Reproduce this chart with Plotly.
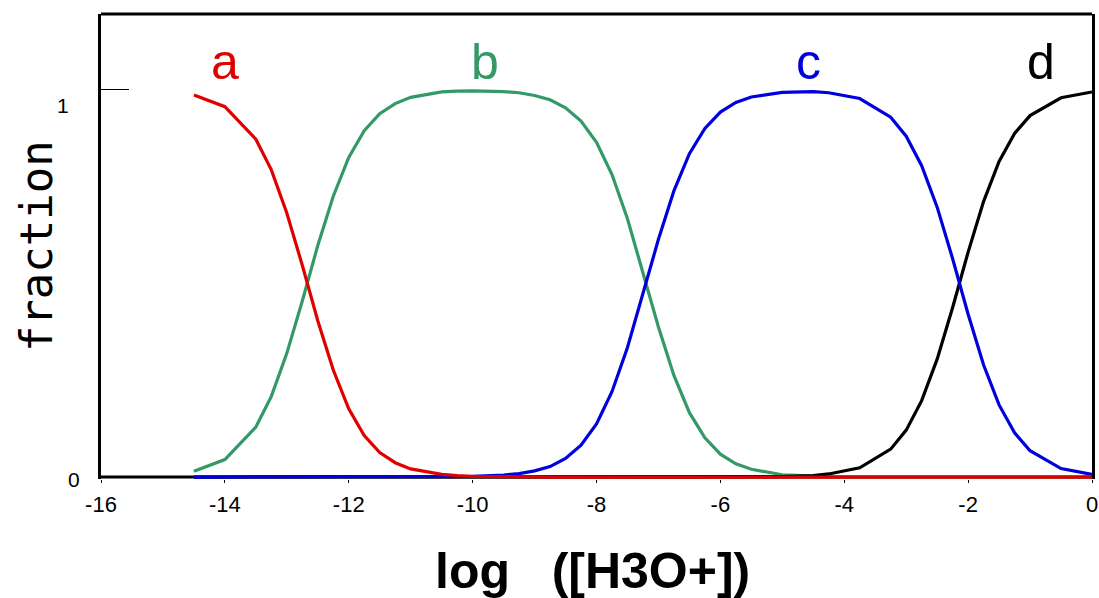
import plotly.graph_objects as go

# log([H3O+]) sample points
x_vals = [-14.5, -14, -13.5, -13.25, -13, -12.75, -12.5, -12.25, -12, -11.75, -11.5, -11.25,
          -11, -10.5, -10.25, -10, -9.5, -9.25, -9, -8.75, -8.5, -8.25, -8, -7.75, -7.5,
          -7.25, -7, -6.75, -6.5, -6.25, -6, -5.75, -5.5, -5, -4.5, -4.25, -3.75, -3.25,
          -3, -2.75, -2.5, -2.25, -2, -1.75, -1.5, -1.25, -1, -0.5, 0]

frac_a = [0.985, 0.955, 0.871, 0.792, 0.681, 0.546, 0.403, 0.276, 0.176, 0.107, 0.063, 0.037,
          0.021, 0.007, 0.004, 0.002, 0.001, 0, 0, 0, 0, 0, 0, 0, 0,
          0, 0, 0, 0, 0, 0, 0, 0, 0, 0, 0, 0, 0,
          0, 0, 0, 0, 0, 0, 0, 0, 0, 0, 0]

frac_b = [0.015, 0.045, 0.129, 0.208, 0.319, 0.454, 0.597, 0.724, 0.824, 0.893, 0.937, 0.963,
          0.979, 0.993, 0.995, 0.996, 0.994, 0.991, 0.984, 0.973, 0.952, 0.918, 0.863, 0.780, 0.666,
          0.529, 0.387, 0.262, 0.166, 0.101, 0.059, 0.034, 0.020, 0.006, 0.002, 0.001, 0, 0,
          0, 0, 0, 0, 0, 0, 0, 0, 0, 0, 0]

frac_c = [0, 0, 0, 0, 0, 0, 0, 0, 0, 0, 0, 0,
          0, 0.001, 0.001, 0.002, 0.005, 0.009, 0.016, 0.027, 0.048, 0.082, 0.137, 0.220, 0.334,
          0.471, 0.613, 0.738, 0.834, 0.899, 0.941, 0.966, 0.980, 0.992, 0.994, 0.991, 0.976, 0.928,
          0.879, 0.803, 0.696, 0.563, 0.420, 0.289, 0.186, 0.114, 0.068, 0.022, 0.007]

frac_d = [0, 0, 0, 0, 0, 0, 0, 0, 0, 0, 0, 0,
          0, 0, 0, 0, 0, 0, 0, 0, 0, 0, 0, 0, 0,
          0, 0, 0, 0, 0, 0, 0, 0, 0.001, 0.004, 0.008, 0.024, 0.072,
          0.121, 0.197, 0.304, 0.437, 0.580, 0.711, 0.814, 0.886, 0.932, 0.978, 0.993]

x_tick_vals = [-16, -14, -12, -10, -8, -6, -4, -2, 0]
x_tick_text = ["-16", "-14", "-12", "-10", "-8", "-6", "-4", "-2", "0"]

series_names = ["a", "b", "c", "d"]
series_label_x = [-14.0, -9.8, -4.58, -0.82]

RED = "#E00000"
GREEN = "#339966"
BLUE = "#0000DD"
BLACK = "#000000"

fig = go.Figure()
# drawing order: b, d, c, a (a on top)
for name, ys, col in [("b", frac_b, GREEN), ("d", frac_d, BLACK), ("c", frac_c, BLUE), ("a", frac_a, RED)]:
    fig.add_trace(go.Scatter(x=x_vals, y=ys, mode="lines", name=name,
                             line=dict(color=col, width=3.2), showlegend=False, hoverinfo="skip"))

label_colors = [RED, GREEN, BLUE, BLACK]
for nm, lx, col in zip(series_names, series_label_x, label_colors):
    fig.add_annotation(x=lx, xref="x", y=0.897, yref="paper", text=nm, showarrow=False,
                       font=dict(family="Liberation Sans, Arial", size=50, color=col),
                       xanchor="center", yanchor="middle")

# y tick labels (offset like the original)
fig.add_annotation(x=-0.0385, xref="paper", y=0.804, yref="paper", text="1", showarrow=False,
                   font=dict(family="Liberation Sans, Arial", size=21, color="black"),
                   xanchor="center", yanchor="middle")
fig.add_annotation(x=-0.027, xref="paper", y=-0.002, yref="paper", text="0", showarrow=False,
                   font=dict(family="Liberation Sans, Arial", size=21, color="black"),
                   xanchor="center", yanchor="middle")

# axis titles
fig.add_annotation(x=0.496, xref="paper", y=-0.198, yref="paper",
                   text="log\u00a0\u00a0\u00a0([H3O+])", showarrow=False,
                   font=dict(family="Liberation Sans, Arial", size=50, color="black", weight="bold"),
                   xanchor="center", yanchor="middle")
fig.add_annotation(x=-0.0655, xref="paper", y=0.501, yref="paper", text="fraction",
                   showarrow=False, textangle=-90,
                   font=dict(family="DejaVu Sans Mono", size=44, color="black"),
                   xanchor="center", yanchor="middle")

# frame: bottom axis line (below traces) and top border
fig.add_shape(type="line", xref="x", yref="y", x0=-16, x1=0, y0=0, y1=0,
              line=dict(color="black", width=3), layer="below")
fig.add_shape(type="line", xref="paper", yref="paper", x0=0, x1=1, y0=1, y1=1,
              line=dict(color="black", width=3), layer="above")

fig.update_xaxes(range=[-16, 0], tickvals=x_tick_vals, ticktext=x_tick_text,
                 ticks="outside", ticklen=3, tickwidth=1, tickcolor="black",
                 showline=False, showgrid=False, zeroline=False, automargin=False,
                 ticklabelstandoff=3,
                 tickfont=dict(family="Liberation Sans, Arial", size=22, color="black"))
fig.update_yaxes(range=[-0.005, 1.194], tickvals=[0, 1], showticklabels=False,
                 ticks="inside", ticklen=28, tickwidth=1, tickcolor="black",
                 showline=True, linewidth=3, linecolor="black", mirror=True,
                 showgrid=False, zeroline=False, automargin=False)

fig.update_layout(width=1099, height=598, margin=dict(l=101, r=7, t=14, b=119, autoexpand=False),
                  paper_bgcolor="white", plot_bgcolor="white")

fig.write_html("out.html")
